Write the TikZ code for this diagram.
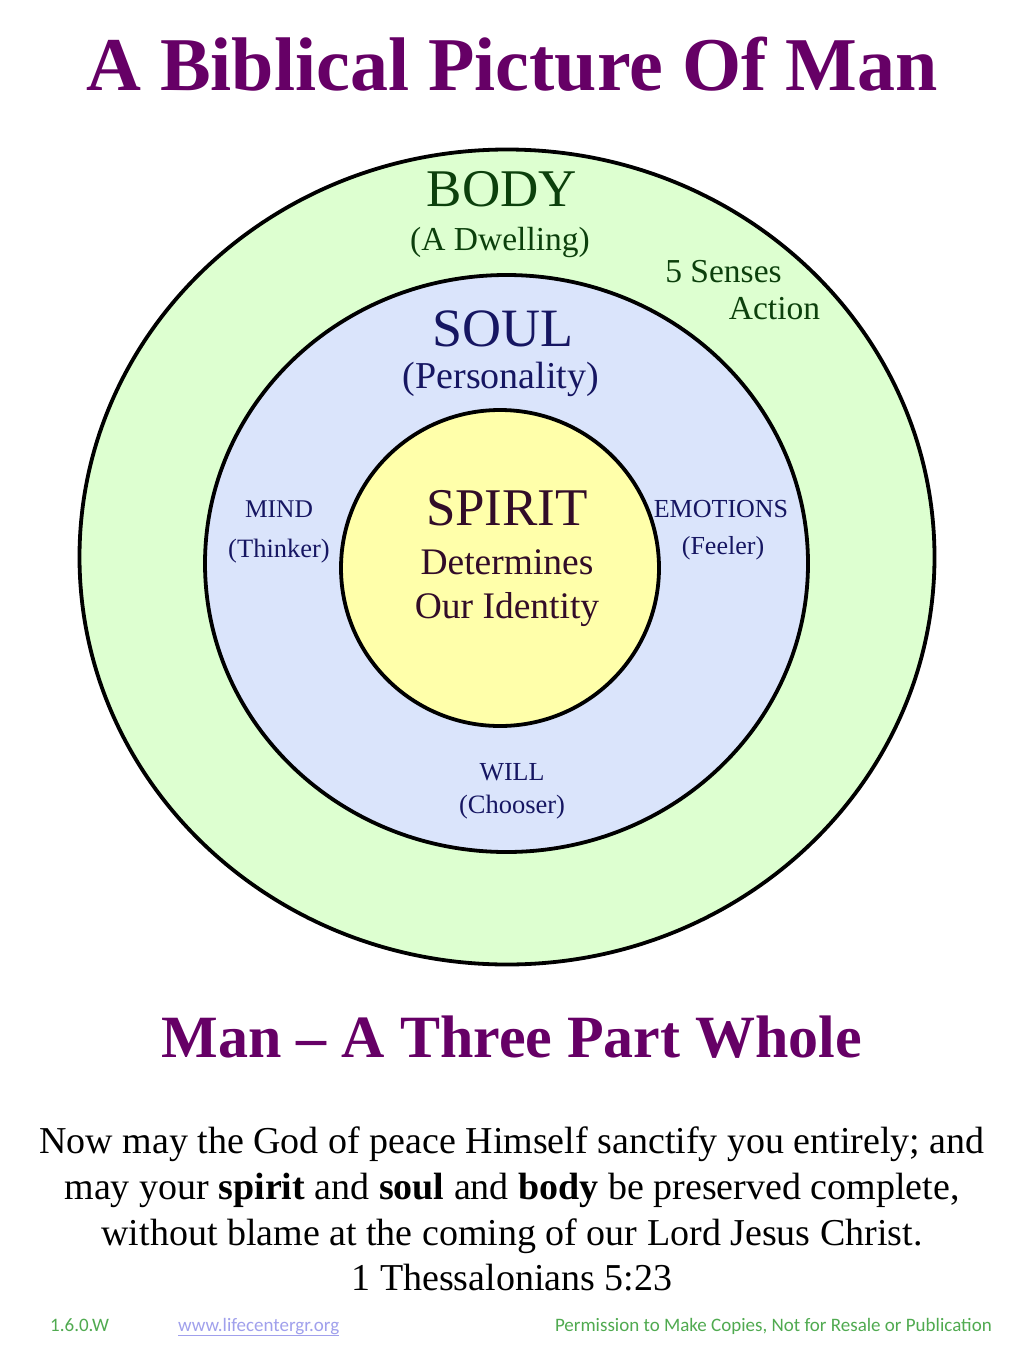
\documentclass[tikz,border=0pt]{standalone}
\usepackage{fontspec}
\setmainfont{Liberation Serif}
\newfontfamily\footfont{Carlito}
\usepackage{xcolor}
\usetikzlibrary{shapes.geometric}

\definecolor{titlepurple}{RGB}{102,0,102}
\definecolor{bodyfill}{RGB}{221,255,208}
\definecolor{soulfill}{RGB}{218,228,251}
\definecolor{spiritfill}{RGB}{255,255,170}
\definecolor{bodytext}{RGB}{12,64,12}
\definecolor{soultext}{RGB}{22,22,98}
\definecolor{spirittext}{RGB}{50,12,40}
\definecolor{footgreen}{RGB}{80,170,80}
\definecolor{linkblue}{RGB}{160,160,236}

\newcommand{\pxsize}[1]{\fontsize{#1}{#1}\selectfont}

\begin{document}
\begin{tikzpicture}[x=1pt, y=-1pt,
  ring/.style={draw, ellipse, line width=3.8pt, inner sep=0pt},
  lbl/.style={anchor=base, inner sep=0pt},
  foot/.style={inner sep=0pt, font=\footfont\pxsize{19}},
  ]
  \useasboundingbox[fill=white] (0,0) rectangle (1024,1365);

  \node[lbl, text=titlepurple, font=\pxsize{76}\bfseries] (title) at (512,90) {A Biblical Picture Of Man};

  % the three parts
  \node[ring, fill=bodyfill, minimum width=855pt, minimum height=815pt] (body) at (507,557) {};
  \node[ring, fill=soulfill, minimum width=603pt, minimum height=577pt] (soul) at (506.5,563.5) {};
  \node[ring, fill=spiritfill, minimum width=318pt, minimum height=316pt] (spirit) at (500,568) {};

  \node[lbl, text=bodytext, font=\pxsize{53}] (bodyname) at (502,206) {BODY};
  \node[lbl, text=bodytext, font=\pxsize{33.5}] (bodyrole) at (500,250) {(A Dwelling)};
  \node[lbl, text=bodytext, font=\pxsize{33.5}] (senses) at (723.5,282) {5 Senses};
  \node[lbl, text=bodytext, font=\pxsize{33.5}] (action) at (774.5,319) {Action};

  \node[lbl, text=soultext, font=\pxsize{54}] (soulname) at (503,346) {SOUL};
  \node[lbl, text=soultext, font=\pxsize{38}] (soulrole) at (501,388) {(Personality)};
  \node[lbl, text=soultext, font=\pxsize{25.5}] (mind) at (279,517) {MIND};
  \node[lbl, text=soultext, font=\pxsize{26.5}] (thinker) at (279,557) {(Thinker)};
  \node[lbl, text=soultext, font=\pxsize{26}] (emotions) at (721,517) {EMOTIONS};
  \node[lbl, text=soultext, font=\pxsize{26}] (feeler) at (723,554) {(Feeler)};
  \node[lbl, text=soultext, font=\pxsize{26}] (will) at (512,780) {WILL};
  \node[lbl, text=soultext, font=\pxsize{26.5}] (chooser) at (512,813) {(Chooser)};

  \node[lbl, text=spirittext, font=\pxsize{53}] (spiritname) at (507,525) {SPIRIT};
  \node[lbl, text=spirittext, font=\pxsize{37.5}] (determines) at (507,574) {Determines};
  \node[lbl, text=spirittext, font=\pxsize{37.5}] (identity) at (507,618) {Our Identity};

  \node[lbl, text=titlepurple, font=\pxsize{60}\bfseries] (subtitle) at (512,1057) {Man -- A Three Part Whole};

  % verse
  \node[lbl, font=\pxsize{38}] (verse1) at (512,1153) {Now may the God of peace Himself sanctify you entirely; and};
  \node[lbl, font=\pxsize{38}] (verse2) at (512,1199) {may your \textbf{spirit} and \textbf{soul} and \textbf{body} be preserved complete,};
  \node[lbl, font=\pxsize{38}] (verse3) at (512,1245) {without blame at the coming of our Lord Jesus Christ.};
  \node[lbl, font=\pxsize{38}] (verse4) at (512,1290) {1 Thessalonians 5:23};

  % footer
  \node[foot, anchor=base west, text=footgreen] (version) at (50,1331) {1.6.0.W};
  \node[foot, anchor=base west, text=linkblue] (site) at (178,1331) {\underline{www.lifecentergr.org}};
  \node[foot, anchor=base east, text=footgreen] (permit) at (992,1331) {Permission to Make Copies, Not for Resale or Publication};
\end{tikzpicture}
\end{document}
